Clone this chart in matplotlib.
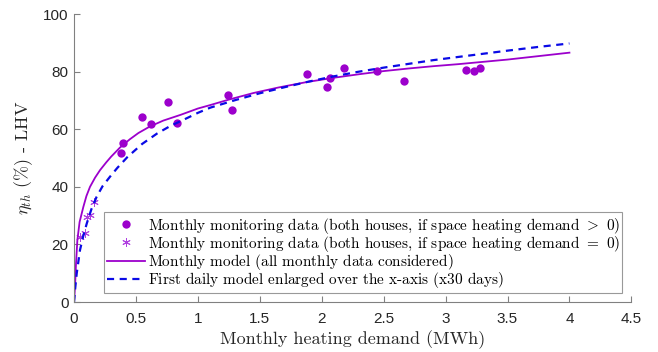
import matplotlib
matplotlib.use("Agg")
import matplotlib.pyplot as plt

# data
dots_x = [0.377, 0.398, 0.552, 0.622, 0.762, 0.835, 1.247, 1.274, 1.880, 2.041, 2.068,
          2.181, 2.450, 2.668, 3.164, 3.231, 3.274]
dots_y = [51.6, 55.3, 64.3, 61.7, 69.4, 62.2, 71.8, 66.6, 79.1, 74.7, 77.9,
          81.2, 80.3, 76.8, 80.7, 80.4, 81.1]

stars_x = [0.048, 0.089, 0.108, 0.129, 0.164]
stars_y = [22.7, 23.9, 29.6, 30.2, 34.6]

model_x = [0.0, 0.004, 0.008, 0.016, 0.027, 0.045, 0.075, 0.10, 0.129, 0.17, 0.21, 0.26,
           0.30, 0.37, 0.45, 0.52, 0.61, 0.72, 0.86, 1.0, 1.1, 1.25, 1.45, 1.65, 1.88,
           2.1, 2.3, 2.5, 2.7, 2.9, 3.1, 3.3, 3.5, 3.75, 4.0]
model_y = [0.0, 2.5, 5.3, 13.4, 21.5, 27.8, 33.0, 36.8, 40.0, 43.2, 45.8, 48.5,
           50.5, 53.6, 56.5, 58.7, 60.9, 63.0, 65.0, 67.2, 68.4, 70.3, 72.6, 74.5, 76.4,
           77.9, 79.1, 80.2, 81.1, 81.9, 82.6, 83.4, 84.2, 85.4, 86.6]

daily_x = [0.0, 0.005, 0.01, 0.022, 0.048, 0.075, 0.103, 0.14, 0.183, 0.23, 0.29, 0.35,
           0.43, 0.55, 0.67, 0.78, 0.88, 1.0, 1.1, 1.3, 1.5, 1.7, 1.9, 2.1, 2.3,
           2.5, 2.7, 2.9, 3.1, 3.3, 3.5, 3.75, 4.0]
daily_y = [0.0, 2.5, 5.0, 10.0, 18.0, 23.0, 27.3, 32.2, 36.6, 40.2, 43.5, 46.6,
           50.3, 54.9, 58.5, 61.2, 63.2, 65.7, 67.5, 70.1, 72.5, 74.6, 76.6, 78.4, 80.0,
           81.4, 82.7, 84.0, 85.1, 86.2, 87.3, 88.6, 89.8]

xticks = [0, 0.5, 1, 1.5, 2, 2.5, 3, 3.5, 4, 4.5]
yticks = [0, 20, 40, 60, 80, 100]

plt.rcParams['mathtext.fontset'] = 'cm'

purple = '#9C00CC'
blue = '#0A0AE6'

fig = plt.figure(figsize=(6.58, 3.52), dpi=100)
ax = fig.add_axes([0.1125, 0.142, 0.847, 0.818])

ax.plot(dots_x, dots_y, 'o', color=purple, markersize=6, markeredgewidth=0,
        label='Monthly monitoring data (both houses, if space heating demand $>$ 0)')
ax.plot(stars_x, stars_y, linestyle='none', marker=(6, 2, 0), color='#B040E0', markersize=6,
        markeredgewidth=0.7,
        label='Monthly monitoring data (both houses, if space heating demand $=$ 0)')
ax.plot(model_x, model_y, '-', color=purple, linewidth=1.3,
        label=r'Monthly model (all monthly data considered)$\,$')
ax.plot(daily_x, daily_y, '--', color=blue, linewidth=1.6, dashes=(3.2, 2.5),
        label=r'First daily model enlarged over the x-axis (x30 days)$\,$')

ax.set_xlim(0, 4.5)
ax.set_ylim(0, 100)
ax.set_xticks(xticks)
ax.set_xticklabels(['0', '0.5', '1', '1.5', '2', '2.5', '3', '3.5', '4', '4.5'])
ax.set_yticks(yticks)
for s in ['top', 'right']:
    ax.spines[s].set_visible(False)
for s in ['left', 'bottom']:
    ax.spines[s].set_color('#808080')
    ax.spines[s].set_linewidth(0.8)
ax.tick_params(direction='in', length=4, width=0.8, color='#808080',
               labelcolor='#262626', labelsize=11)
ax.tick_params(axis='x', pad=7)
ax.tick_params(axis='y', pad=4)
for lab in ax.get_xticklabels() + ax.get_yticklabels():
    lab.set_family('Liberation Sans')

ax.set_xlabel('Monthly heating demand (MWh)', family='cmr10', fontsize=13, color='#262626',
              labelpad=3)
ax.set_ylabel(r'$\eta_{th}\ (\%)$ - LHV', family='cmr10', fontsize=13, color='#262626',
              labelpad=6)

leg = ax.legend(loc='lower left', bbox_to_anchor=(0.054, 0.031, 0.929, 0.2), mode='expand',
                prop={'family': 'cmr10', 'size': 11}, frameon=True,
                fancybox=False, borderpad=0.2, labelspacing=-0.12, handlelength=2.45,
                handletextpad=0.2, borderaxespad=0)
leg.get_frame().set_edgecolor('#808080')
leg.get_frame().set_linewidth(0.8)

fig.savefig('out.png', dpi=100)
